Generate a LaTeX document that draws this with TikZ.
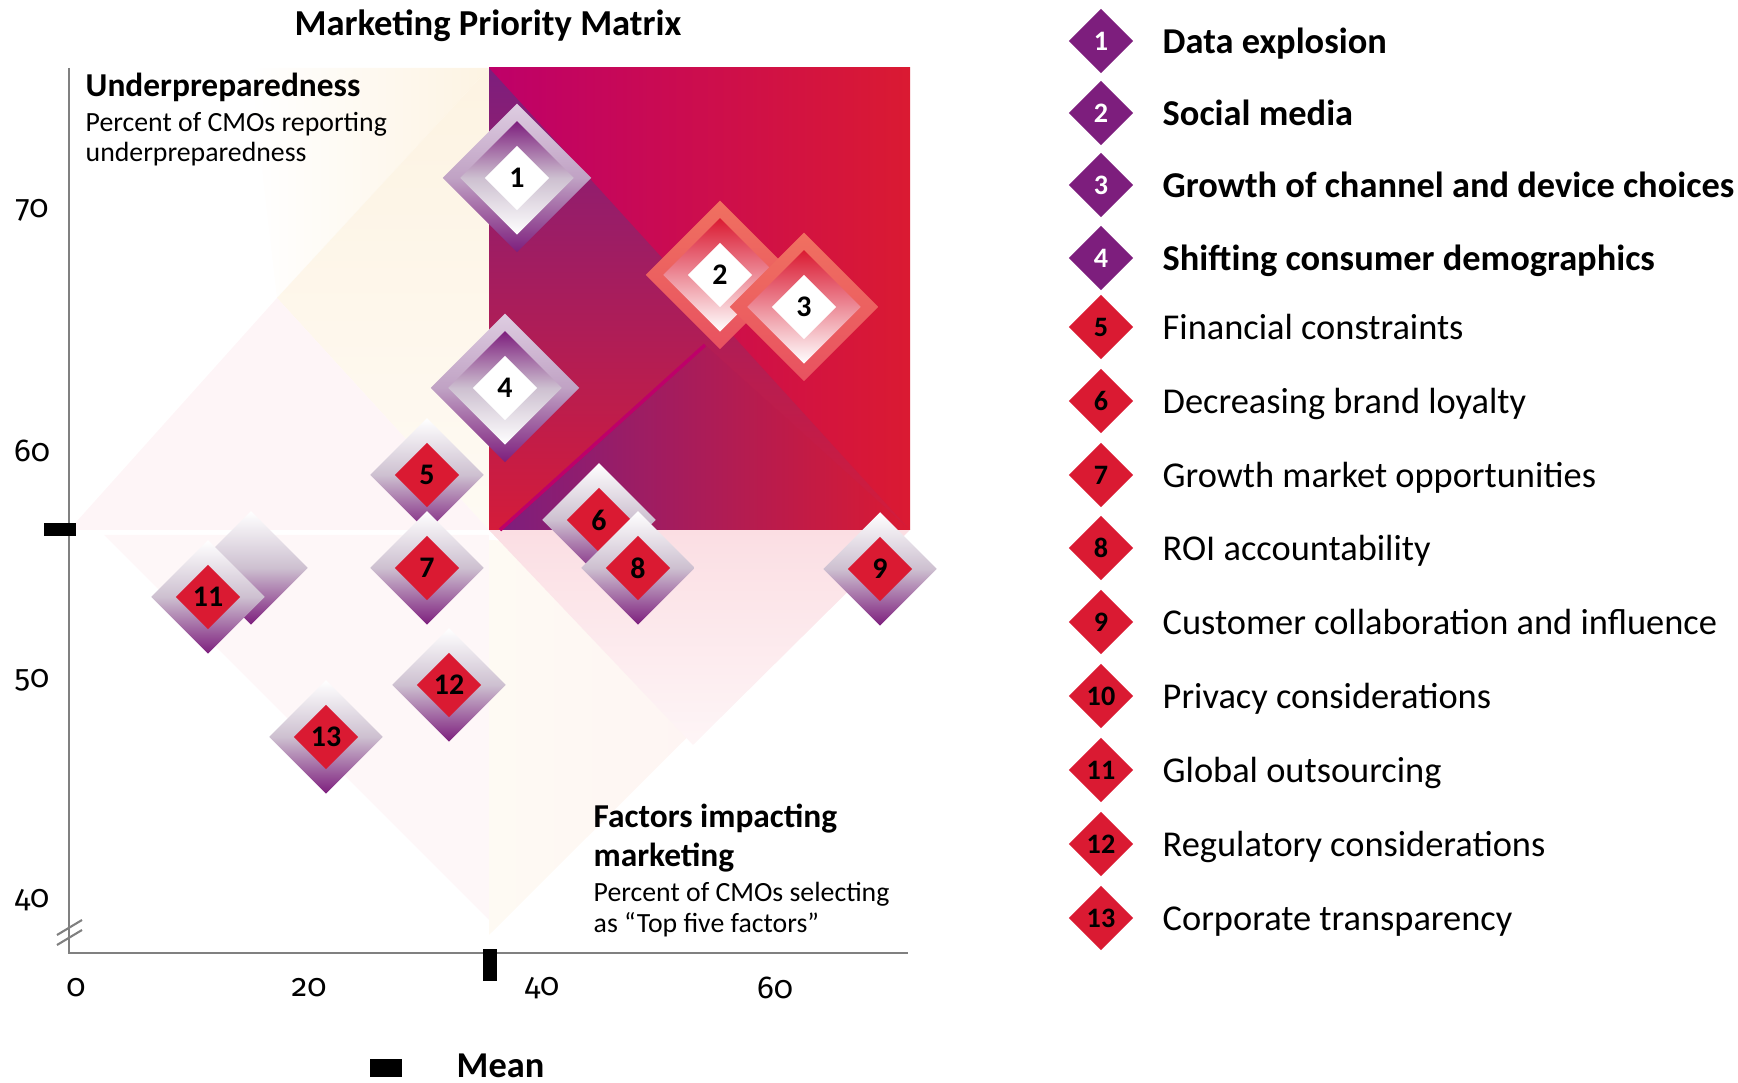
\documentclass[tikz,border=0pt]{standalone}
\usepackage{fontspec}
\setmainfont{Carlito}
\newfontfamily\tickfont[Numbers=OldStyle]{Fira Sans}
\usepackage{xcolor}
\usepackage{tikz}
\usetikzlibrary{positioning, shapes.geometric}
\definecolor{magc}{RGB}{190, 0, 105}
\definecolor{redc}{RGB}{218, 26, 50}
\definecolor{purc}{RGB}{125, 30, 125}
\definecolor{crimc}{RGB}{212, 28, 58}
\definecolor{lavc}{RGB}{222, 205, 225}
\definecolor{lavmid}{RGB}{192, 162, 196}
\definecolor{greymid}{RGB}{205, 192, 208}
\definecolor{salc}{RGB}{240, 112, 96}
\definecolor{salbc}{RGB}{232, 82, 96}
\definecolor{creamc}{RGB}{253, 243, 226}
\definecolor{pinkc}{RGB}{251, 222, 227}
\definecolor{axisc}{RGB}{128, 128, 128}
\tikzset{
  outerp/.style={diamond, inner sep=0pt, minimum size=1.49cm, top color=lavc, bottom color=purc, middle color=lavmid},
  outerr/.style={diamond, inner sep=0pt, minimum size=1.49cm, top color=salc, bottom color=salbc},
  bandp/.style={diamond, inner sep=0pt, minimum size=1.14cm, top color=purc, bottom color=white, middle color=greymid},
  bandr/.style={diamond, inner sep=0pt, minimum size=1.14cm, top color=redc, bottom color=white},
  outers/.style={diamond, inner sep=0pt, minimum size=1.14cm, top color=white, bottom color=purc, middle color=greymid},
  corew/.style={diamond, inner sep=0pt, minimum size=0.65cm, fill=white, font=\fontsize{8.5}{10}\selectfont\bfseries},
  corer/.style={diamond, inner sep=0pt, minimum size=0.65cm, fill=redc, font=\fontsize{8.5}{10}\selectfont\bfseries},
  keyp/.style={diamond, inner sep=0pt, minimum size=0.65cm, fill=purc, text=white, font=\fontsize{8}{9}\selectfont\bfseries},
  keyr/.style={diamond, inner sep=0pt, minimum size=0.65cm, fill=redc, text=black, font=\fontsize{8}{9}\selectfont\bfseries},
  keytext/.style={anchor=base west, inner sep=0pt, font=\fontsize{10.35}{12}\selectfont},
  keybold/.style={keytext, font=\fontsize{10.35}{12}\selectfont\bfseries},
  ticklabel/.style={font=\tickfont\fontsize{9}{11}\selectfont},
  axisline/.style={axisc, line width=0.6pt},
  headtext/.style={anchor=base west, inner sep=0pt, font=\fontsize{9.5}{11}\selectfont\bfseries},
  subtext/.style={anchor=base west, inner sep=0pt, font=\fontsize{7.9}{9}\selectfont},
}

\begin{document}
\begin{tikzpicture}[x=0.01cm, y=-0.01cm]
\useasboundingbox (0,0) rectangle (1738,1083);

% pale background
\shade[left color=white, right color=creamc] (250,68) -- (489,68) -- (277,298) -- cycle;
\shade[top color=creamc, bottom color=creamc!40] (277,298) -- (489,68) -- (489,530) -- cycle;
\fill[pinkc!30] (69,530) -- (277,298) -- (489,530) -- cycle;
\fill[pinkc!25] (104,535) -- (489,535) -- (489,920) -- cycle;
\shade[left color=creamc!40, right color=pinkc!45] (489,540) -- (870,555) -- (489,935) -- cycle;
\shade[top color=pinkc, bottom color=pinkc!30] (489,530) -- (910,530) -- (693,745) -- cycle;

% top right quadrant
\shade[left color=magc, right color=redc] (489,68) rectangle (910,530);
\shade[top color=purc, bottom color=crimc] (489,68) -- (910,530) -- (489,530) -- cycle;
\shade[left color=purc, right color=redc] (500,530) -- (705,345) -- (910,530) -- cycle;
\draw[magc, line width=1pt] (500,530) -- (705,345);

% axes
\coordinate (ytop) at (69,68);
\coordinate (orig) at (69,953);
\coordinate (xend) at (908,953);
\draw[axisline] (ytop) -- (orig) -- (xend);
\draw[axisline] (57,935) -- (82,920);
\draw[axisline] (57,945) -- (82,930);
\fill (44,523) rectangle (76,536);
\fill (483,949) rectangle (497,981);

\node[ticklabel] (y70) at (32,210) {70};
\node[ticklabel] (y60) at (32,451) {60};
\node[ticklabel] (y50) at (32,680) {50};
\node[ticklabel] (y40) at (32,900) {40};
\node[ticklabel] (x0) at (76,988) {0};
\node[ticklabel] (x20) at (309,988) {20};
\node[ticklabel] (x40) at (542,988) {40};
\node[ticklabel] (x60) at (775,988) {60};

% titles
\node[anchor=base, font=\fontsize{10.4}{12}\selectfont\bfseries] (title) at (488,36) {Marketing Priority Matrix};
\node[headtext] (under) at (85,97) {Underpreparedness};
\node[subtext] (under2) at (85,132) {Percent of CMOs reporting};
\node[subtext] (under3) at (85,162) {underpreparedness};
\node[headtext] (fact) at (593,828) {Factors impacting};
\node[headtext] (fact2) at (593,867) {marketing};
\node[subtext] (fact3) at (593,902) {Percent of CMOs selecting};
\node[subtext] (fact4) at (593,933) {as “Top five factors”};

% markers
\node[outerp] (m1o) at (517,178) {};
\node[bandp] (m1b) at (517,178) {};
\node[corew] (m1) at (517,178) {1};
\node[outerr] (m2o) at (720,275) {};
\node[bandr] (m2b) at (720,275) {};
\node[corew] (m2) at (720,275) {2};
\node[outerr] (m3o) at (804,307) {};
\node[bandr] (m3b) at (804,307) {};
\node[corew] (m3) at (804,307) {3};
\node[outerp] (m4o) at (505,388) {};
\node[bandp] (m4b) at (505,388) {};
\node[corew] (m4) at (505,388) {4};
\node[outers] (m10o) at (251,568) {};
\node[outers] (m11o) at (208,597) {};
\node[corer] (m11) at (208,597) {11};
\node[outers] (m5o) at (427,475) {};
\node[corer] (m5) at (427,475) {5};
\node[outers] (m7o) at (427,568) {};
\node[corer] (m7) at (427,568) {7};
\node[outers] (m12o) at (449,685) {};
\node[corer] (m12) at (449,685) {12};
\node[outers] (m13o) at (326,737) {};
\node[corer] (m13) at (326,737) {13};
\node[outers] (m6o) at (599,520) {};
\node[corer] (m6) at (599,520) {6};
\node[outers] (m8o) at (638,568) {};
\node[corer] (m8) at (638,568) {8};
\node[outers] (m9o) at (880,569) {};
\node[corer] (m9) at (880,569) {9};

% mean key
\fill (370,1059) rectangle (402,1077);
\node[anchor=base west, inner sep=0pt, font=\fontsize{10.35}{12}\selectfont\bfseries] (meanlbl) at (456,1078) {Mean};

% legend
\node[keyp] (k1) at (1101,41) {1};
\node[keybold] (t1) at (1162,54) {Data explosion};
\node[keyp] (k2) at (1101,113) {2};
\node[keybold] (t2) at (1162,126) {Social media};
\node[keyp] (k3) at (1101,185) {3};
\node[keybold] (t3) at (1162,198) {Growth of channel and device choices};
\node[keyp] (k4) at (1101,258) {4};
\node[keybold] (t4) at (1162,271) {Shifting consumer demographics};
\node[keyr] (k5) at (1101,327) {5};
\node[keytext] (t5) at (1162,340) {Financial constraints};
\node[keyr] (k6) at (1101,401) {6};
\node[keytext] (t6) at (1162,414) {Decreasing brand loyalty};
\node[keyr] (k7) at (1101,475) {7};
\node[keytext] (t7) at (1162,488) {Growth market opportunities};
\node[keyr] (k8) at (1101,548) {8};
\node[keytext] (t8) at (1162,561) {ROI accountability};
\node[keyr] (k9) at (1101,622) {9};
\node[keytext] (t9) at (1162,635) {Customer collaboration and influence};
\node[keyr] (k10) at (1101,696) {10};
\node[keytext] (t10) at (1162,709) {Privacy considerations};
\node[keyr] (k11) at (1101,770) {11};
\node[keytext] (t11) at (1162,783) {Global outsourcing};
\node[keyr] (k12) at (1101,844) {12};
\node[keytext] (t12) at (1162,857) {Regulatory considerations};
\node[keyr] (k13) at (1101,918) {13};
\node[keytext] (t13) at (1162,931) {Corporate transparency};
\end{tikzpicture}
\end{document}
